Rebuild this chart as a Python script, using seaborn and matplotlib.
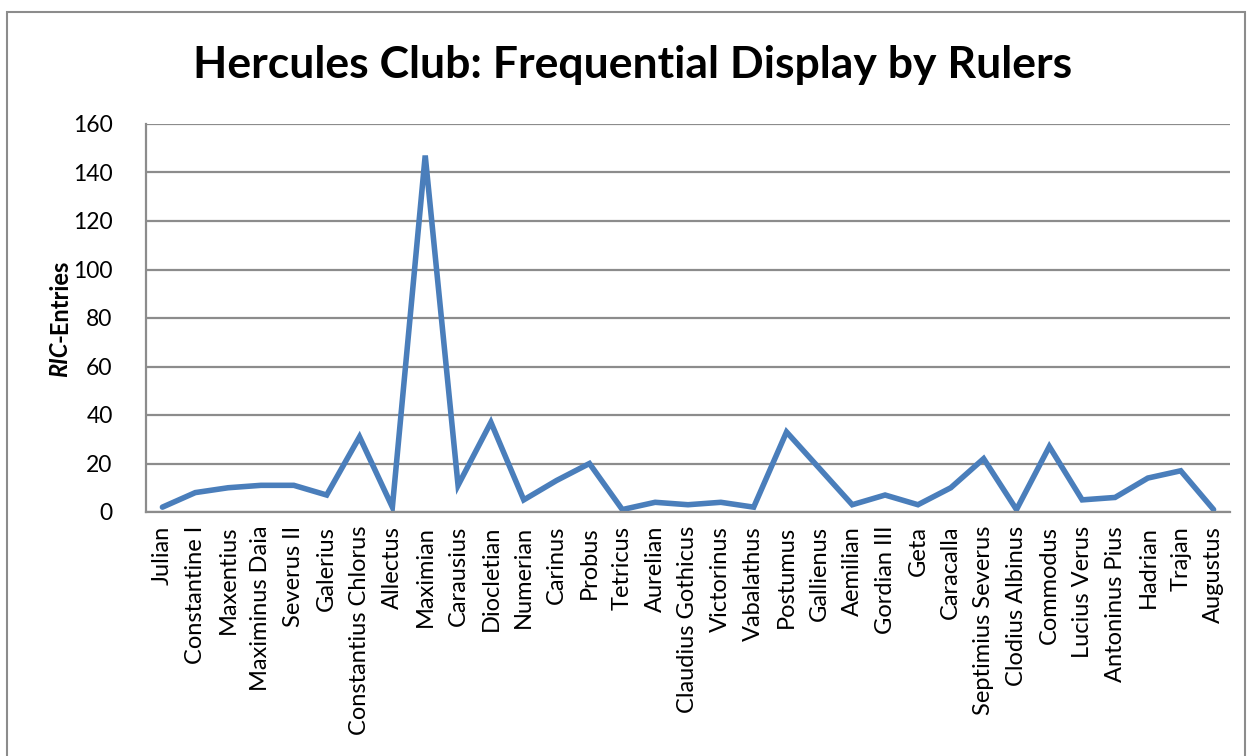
import matplotlib
matplotlib.use("Agg")
import matplotlib.pyplot as plt
import seaborn as sns
import pandas as pd
from matplotlib.patches import Rectangle

rulers = ["Julian", "Constantine I", "Maxentius", "Maximinus Daia", "Severus II", "Galerius",
          "Constantius Chlorus", "Allectus", "Maximian", "Carausius", "Diocletian", "Numerian",
          "Carinus", "Probus", "Tetricus", "Aurelian", "Claudius Gothicus", "Victorinus",
          "Vabalathus", "Postumus", "Gallienus", "Aemilian", "Gordian III", "Geta", "Caracalla",
          "Septimius Severus", "Clodius Albinus", "Commodus", "Lucius Verus", "Antoninus Pius",
          "Hadrian", "Trajan", "Augustus"]
entries = [2, 8, 10, 11, 11, 7, 31, 2, 147, 11, 37, 5, 13, 20, 1, 4, 3, 4, 2, 33, 18, 3, 7,
           3, 10, 22, 1, 27, 5, 6, 14, 17, 1]
yticks = [0, 20, 40, 60, 80, 100, 120, 140, 160]

sns.set_theme(style="white")
plt.rcParams['font.family'] = ['Lato', 'DejaVu Sans']
plt.rcParams['text.color'] = 'black'

W, H = 1247, 756
fig = plt.figure(figsize=(W / 100, H / 100), dpi=100)
ax = fig.add_axes([146 / W, 1 - 512 / H, (1230 - 146) / W, (512 - 124) / H])

df = pd.DataFrame({"ruler": rulers, "entries": entries, "pos": range(len(rulers))})
sns.lineplot(data=df, x="pos", y="entries", ax=ax, color="#4a7ebb", linewidth=4.0,
             solid_joinstyle="miter")

ax.set_xlim(-0.5, len(rulers) - 0.5)
ax.set_ylim(0, 160)
ax.set_yticks(yticks)
ax.set_yticklabels([str(v) for v in yticks], fontsize=16.5)
ax.set_xticks(range(len(rulers)))
ax.set_xticklabels(rulers, rotation=90, fontsize=17)
ax.tick_params(axis="both", length=0, pad=10, colors="black", labelcolor="black")
ax.tick_params(axis="y", pad=24)
ax.grid(axis="y", color="#8c8c8c", linewidth=1.6)
ax.grid(axis="x", visible=False)
ax.set_axisbelow(True)
for s in ["top", "right"]:
    ax.spines[s].set_visible(False)
for s in ["left", "bottom"]:
    ax.spines[s].set_color("#8c8c8c")
    ax.spines[s].set_linewidth(1.6)
ax.set_xlabel("")
ax.set_ylabel("")

fig.text(633 / W, 1 - 65 / H, "Hercules Club: Frequential Display by Rulers",
         ha="center", va="center", fontsize=32, fontweight="bold", color="black")

# y axis label: "RIC" italic bold, then "-Entries" bold
lx = 60 / W
ybot = 1 - 377 / H
t1 = fig.text(lx, ybot, "RIC", rotation=90, ha="center", va="bottom",
              fontsize=17, fontweight="bold", fontstyle="italic", color="black")
fig.canvas.draw()
bb = t1.get_window_extent(renderer=fig.canvas.get_renderer())
fig.text(lx, (bb.y1) / H, "-Entries", rotation=90, ha="center", va="bottom",
         fontsize=17, fontweight="bold", color="black")

fig.patches.append(Rectangle((7 / W, -0.05), (1245 - 7) / W, 1.05 - 12 / H,
                             transform=fig.transFigure, fill=False,
                             edgecolor="#8c8c8c", linewidth=1.5))

fig.savefig("out.png", dpi=100)
